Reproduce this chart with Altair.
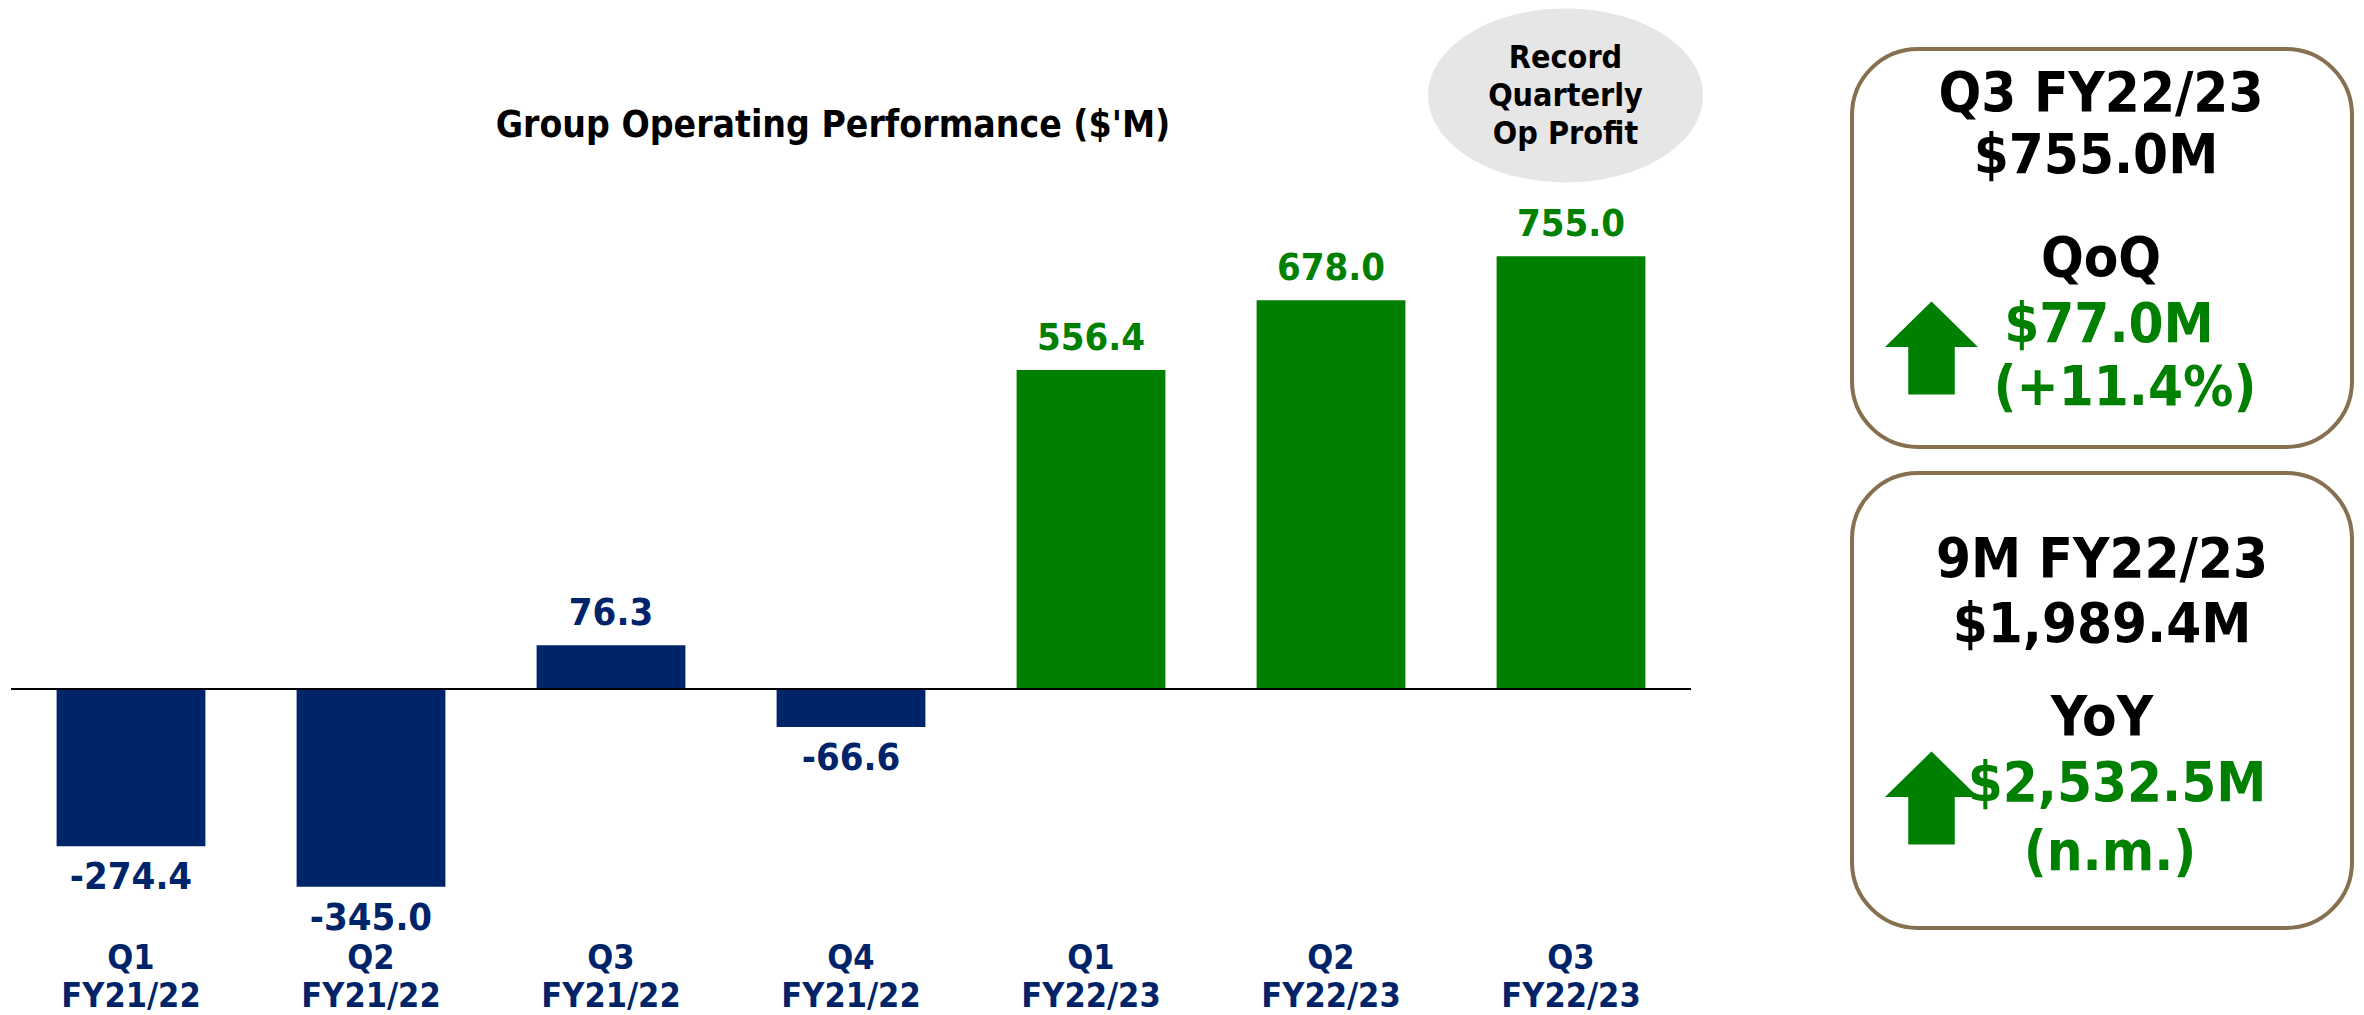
import altair as alt
import pandas as pd

# ---------------- data ----------------
quarters = ["Q1", "Q2", "Q3", "Q4", "Q1", "Q2", "Q3"]
fiscal_years = ["FY21/22", "FY21/22", "FY21/22", "FY21/22", "FY22/23", "FY22/23", "FY22/23"]
values = [-274.4, -345.0, 76.3, -66.6, 556.4, 678.0, 755.0]
value_labels = ["-274.4", "-345.0", "76.3", "-66.6", "556.4", "678.0", "755.0"]

title_text = "Group Operating Performance ($'M)"
callout_lines = ["Record", "Quarterly", "Op Profit"]

box1_lines = ["Q3 FY22/23", "$755.0M", "QoQ", "$77.0M", "(+11.4%)"]
box2_lines = ["9M FY22/23", "$1,989.4M", "YoY", "$2,532.5M", "(n.m.)"]
line_kinds = ["head", "head", "head", "delta", "delta"]

# ---------------- style ----------------
FONT = "DejaVu Sans Condensed, DejaVu Sans"
NAVY = "#002469"
GREEN = "#008000"
BROWN = "#86704F"
GREY = "#E6E6E6"

keys = [f"{q} {fy}" for q, fy in zip(quarters, fiscal_years)]
df = pd.DataFrame({"key": keys, "q": quarters, "fy": fiscal_years,
                   "value": values, "label": value_labels})

W, H = 1680, 995
x_enc = alt.X("key:N", sort=keys, axis=None,
              scale=alt.Scale(paddingInner=0.38, paddingOuter=0.19))
y_scale = alt.Scale(domain=[-548, 1188], nice=False, zero=False)
col = alt.Color("fy:N", legend=None,
                scale=alt.Scale(domain=["FY21/22", "FY22/23"], range=[NAVY, GREEN]))

base = alt.Chart(df)
bars = base.mark_bar().encode(x=x_enc, y=alt.Y("value:Q", scale=y_scale, axis=None), color=col)
zero = alt.Chart(pd.DataFrame({"z": [0]})).mark_rule(color="black", strokeWidth=2).encode(
    y=alt.Y("z:Q", scale=y_scale, axis=None))

txt = dict(font=FONT, fontWeight="bold", baseline="alphabetic", align="center")
pos_lbl = base.transform_filter("datum.value >= 0").mark_text(dy=-20, fontSize=38, **txt).encode(
    x=x_enc, y=alt.Y("value:Q", scale=y_scale, axis=None), text="label:N", color=col)
neg_lbl = base.transform_filter("datum.value < 0").mark_text(dy=43, fontSize=38, **txt).encode(
    x=x_enc, y=alt.Y("value:Q", scale=y_scale, axis=None), text="label:N", color=col)
cat_q = base.mark_text(fontSize=34, color=NAVY, **txt).encode(
    x=x_enc, y=alt.value(961), text="q:N")
cat_fy = base.mark_text(fontSize=34, color=NAVY, **txt).encode(
    x=x_enc, y=alt.value(999), text="fy:N")

one = pd.DataFrame({"t": [title_text]})
title = alt.Chart(one).mark_text(fontSize=37, color="black", **txt).encode(
    x=alt.value(822), y=alt.value(129), text="t:N")

ELLIPSE = "M -1 0 A 1 0.632 0 1 1 1 0 A 1 0.632 0 1 1 -1 0 Z"
ellipse = alt.Chart(one).mark_point(shape=ELLIPSE, size=275 * 275, filled=True,
                                    color=GREY, opacity=1, strokeWidth=0).encode(
    x=alt.value(1554.5), y=alt.value(87.5))
callout = alt.Chart(one).mark_text(fontSize=32, color="black", lineHeight=38, **txt).encode(
    x=alt.value(1554.5), y=alt.value(60), text=alt.value(callout_lines))

left = alt.layer(ellipse, callout, title, bars, zero, pos_lbl, neg_lbl, cat_q, cat_fy).properties(
    width=W, height=H)

# ---------------- right panel (KPI boxes) ----------------
RW = 504
xs = alt.Scale(domain=[0, RW], nice=False, zero=False)
ys = alt.Scale(domain=[0, H], nice=False, zero=False, reverse=True)
boxes = pd.DataFrame({"x0": [2, 2], "x1": [502, 502], "y0": [41, 465], "y1": [439, 920]})
box_layer = alt.Chart(boxes).mark_rect(cornerRadius=66, fill="white", stroke=BROWN,
                                       strokeWidth=4).encode(
    x=alt.X("x0:Q", scale=xs, axis=None), x2="x1:Q",
    y=alt.Y("y0:Q", scale=ys, axis=None), y2="y1:Q")

lines = pd.DataFrame({
    "text": box1_lines + box2_lines,
    "kind": line_kinds + line_kinds,
    "x": [251, 246, 251, 259, 275, 252, 252, 252, 267, 260],
    "y": [103, 165, 268, 334, 397, 569, 634, 727, 793, 862],
})
box_text = alt.Chart(lines).mark_text(fontSize=56, **txt).encode(
    x=alt.X("x:Q", scale=xs, axis=None), y=alt.Y("y:Q", scale=ys, axis=None),
    text="text:N",
    color=alt.Color("kind:N", legend=None,
                    scale=alt.Scale(domain=["head", "delta"], range=["black", GREEN])))

ARROW = "M 0 -1 L 1 -0.02 L 0.5 -0.02 L 0.5 1 L -0.5 1 L -0.5 -0.02 L -1 -0.02 Z"
arrows = pd.DataFrame({"x": [81.5, 81.5], "y": [340, 790]})
arrow_layer = alt.Chart(arrows).mark_point(shape=ARROW, size=93 * 93, filled=True,
                                           color=GREEN, opacity=1, strokeWidth=0).encode(
    x=alt.X("x:Q", scale=xs, axis=None), y=alt.Y("y:Q", scale=ys, axis=None))

right = alt.layer(box_layer, box_text, arrow_layer).properties(width=RW, height=H)

chart = alt.hconcat(left, right, spacing=159).properties(
    padding={"left": 2, "top": 0, "right": 0, "bottom": 0}, bounds="flush"
).configure_view(stroke=None).resolve_scale(color="independent")

chart.save("out.html", embed_options={"renderer": "svg", "actions": False})
